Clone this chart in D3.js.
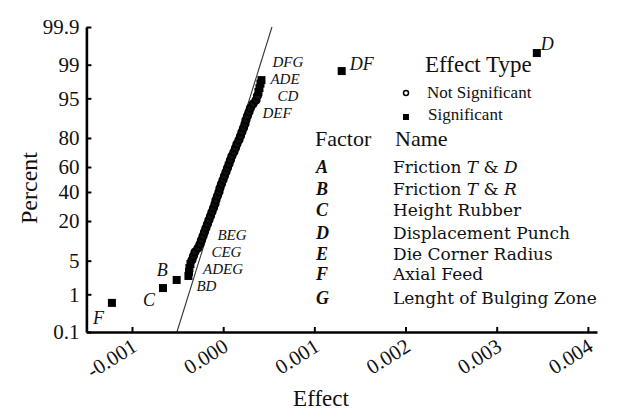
<!DOCTYPE html>
<html>
<head>
<meta charset="utf-8">
<script src="https://cdn.jsdelivr.net/npm/d3@7"></script>
<style>
  body { margin: 0; background: #fff; }
  text { font-family: "Liberation Serif", "Times New Roman", serif; fill: #111; }
</style>
</head>
<body>
<div id="contentpane"></div>
<script>
//////////
// Data //
//////////

// Effects, sorted, and their normal probability (%)
var effects = [-0.00122, -0.00066, -0.00051,
  -0.000381, -0.000375, -0.000370, -0.000359, -0.000342, -0.000326, -0.000309, -0.000276, -0.000254, -0.000238,
  -0.000221, -0.000205, -0.000189, -0.000172, -0.000156, -0.000139, -0.000123, -0.000106, -0.000090, -0.000079,
  -0.000063, -0.000046, -0.000035, -0.000019, -0.000002, 0.000014, 0.000031, 0.000047, 0.000064, 0.000080,
  0.000096, 0.000118, 0.000135, 0.000151, 0.000173, 0.000190, 0.000206, 0.000223, 0.000239, 0.000250,
  0.000266, 0.000283, 0.000299, 0.000327, 0.000360, 0.000376, 0.000387, 0.000398, 0.000409, 0.000420,
  0.00130, 0.00344];
var percents = [0.62, 1.39, 2.09,
  2.53, 3.05, 3.65, 4.34, 5.14, 6.06, 7.09, 8.26, 9.56, 11.0,
  12.6, 14.4, 16.3, 18.4, 20.6, 23.0, 25.5, 28.2, 31.0, 33.9,
  36.9, 40.0, 43.2, 46.4, 49.6, 52.8, 56.0, 59.2, 62.3, 65.4,
  68.3, 71.1, 73.8, 76.4, 78.8, 81.1, 83.2, 85.2, 87.0, 88.6,
  90.1, 91.4, 92.6, 93.7, 94.6, 95.5, 96.2, 96.8, 97.4, 97.8,
  98.6, 99.48];
// Labels of significant effects ("" = not significant)
var labels = ["F", "C", "B",
  "BD", "ADEG", "CEG", "BEG", "", "", "", "", "", "",
  "", "", "", "", "", "", "", "", "", "",
  "", "", "", "", "", "", "", "", "", "",
  "", "", "", "", "", "", "", "", "", "",
  "", "", "", "", "", "", "DEF", "CD", "ADE", "DFG",
  "DF", "D"];

// Fitted normal line
var fitEffect = [-0.000507, 0.000535];
var fitPercent = [0.1, 99.9];

// Axes
var yTicks = [0.1, 1, 5, 20, 40, 60, 80, 95, 99, 99.9];
var xTicks = [-0.001, 0, 0.001, 0.002, 0.003, 0.004];
var xTickLabels = ["-0.001", "0.000", "0.001", "0.002", "0.003", "0.004"];

// Legend table
var factorCodes = ["A", "B", "C", "D", "E", "F", "G"];
var factorNames = ["Friction T & D", "Friction T & R", "Height Rubber", "Displacement Punch",
  "Die Corner Radius", "Axial Feed", "Lenght of Bulging Zone"];

///////////////
// Functions //
///////////////

// Inverse normal CDF (Acklam)
function probit(p){
	var a = [-39.69683028665376, 220.9460984245205, -275.9285104469687, 138.3577518672690, -30.66479806614716, 2.506628277459239];
	var b = [-54.47609879822406, 161.5858368580409, -155.6989798598866, 66.80131188771972, -13.28068155288572];
	var c = [-0.007784894002430293, -0.3223964580411365, -2.400758277161838, -2.549732539343734, 4.374664141464968, 2.938163982698783];
	var d = [0.007784695709041462, 0.3224671290700398, 2.445134137142996, 3.754408661907416];
	var q, r;
	if (p < 0.02425) {
		q = Math.sqrt(-2 * Math.log(p));
		return (((((c[0]*q+c[1])*q+c[2])*q+c[3])*q+c[4])*q+c[5]) / ((((d[0]*q+d[1])*q+d[2])*q+d[3])*q+1);
	}
	if (p > 1 - 0.02425) {
		q = Math.sqrt(-2 * Math.log(1 - p));
		return -(((((c[0]*q+c[1])*q+c[2])*q+c[3])*q+c[4])*q+c[5]) / ((((d[0]*q+d[1])*q+d[2])*q+d[3])*q+1);
	}
	q = p - 0.5; r = q * q;
	return (((((a[0]*r+a[1])*r+a[2])*r+a[3])*r+a[4])*r+a[5])*q / (((((b[0]*r+b[1])*r+b[2])*r+b[3])*r+b[4])*r+1);
}

///////////////////
// Initial setup //
///////////////////

var width = 622;
var height = 412;
var svg = d3.select("#contentpane").append("svg")
	.attr("width", width).attr("height", height);

// Scales
var x = d3.scaleLinear().domain([-0.0015, 0.0041]).range([86.4, 597]);
var z = d3.scaleLinear().domain([probit(0.001), probit(0.999)]).range([332, 27]);
function y(p) { return z(probit(p / 100)); }

var points = effects.map(function(e, i) { return {e: e, p: percents[i], label: labels[i]}; });

// Fit line
svg.append("line")
	.attr("x1", x(fitEffect[0])).attr("y1", y(fitPercent[0]))
	.attr("x2", x(fitEffect[1])).attr("y2", y(fitPercent[1]))
	.attr("stroke", "#333").attr("stroke-width", 1.1);

// Not significant points (overlap into a solid band)
svg.selectAll("circle.pt").data(points.filter(function(d) { return d.label === ""; }))
	.enter().append("circle").attr("class", "pt")
	.attr("cx", function(d) { return x(d.e); })
	.attr("cy", function(d) { return y(d.p); })
	.attr("r", 3.6)
	.attr("fill", "#111").attr("stroke", "#000").attr("stroke-width", 2);

// Significant points
var sq = 8;
svg.selectAll("rect.pt").data(points.filter(function(d) { return d.label !== ""; }))
	.enter().append("rect").attr("class", "pt")
	.attr("x", function(d) { return x(d.e) - sq / 2; })
	.attr("y", function(d) { return y(d.p) - sq / 2; })
	.attr("width", sq).attr("height", sq)
	.attr("fill", "#000");

// Point labels, offsets in px; stacked ones are smaller
var labelOffset = {
	F: [-19, 21], C: [-20, 18], B: [-20, -4],
	BD: [8, 15], ADEG: [14, 2], CEG: [22, -11], BEG: [27, -24],
	DEF: [4, 26], CD: [18, 13], ADE: [10, 0], DFG: [11, -13],
	DF: [8, -1], D: [4, -3]
};
var lonely = ["F", "C", "B", "DF", "D"];
svg.selectAll("text.lab").data(points.filter(function(d) { return d.label !== ""; }))
	.enter().append("text").attr("class", "lab")
	.text(function(d) { return d.label; })
	.attr("x", function(d) { return x(d.e) + labelOffset[d.label][0]; })
	.attr("y", function(d) { return y(d.p) + labelOffset[d.label][1]; })
	.attr("font-size", function(d) { return lonely.indexOf(d.label) >= 0 ? "18px" : "15px"; })
	.attr("font-style", "italic");

// Y axis
var yAxis = svg.append("g").attr("transform", "translate(86.4,0)")
	.call(d3.axisLeft(z)
		.tickValues(yTicks.map(function(p) { return probit(p / 100); }))
		.tickFormat(function(v, i) { return yTicks[i]; })
		.tickSizeInner(-5).tickSizeOuter(0).tickPadding(7));

// X axis
var xAxis = svg.append("g").attr("transform", "translate(0,332)")
	.call(d3.axisBottom(x)
		.tickValues(xTicks)
		.tickFormat(function(v, i) { return xTickLabels[i]; })
		.tickSizeInner(-5).tickSizeOuter(0));

[yAxis, xAxis].forEach(function(ax) {
	ax.select(".domain").attr("stroke", "#000").attr("stroke-width", 2.6);
	ax.selectAll(".tick line").attr("stroke", "#000").attr("stroke-width", 2);
	ax.selectAll(".tick text").attr("font-family", "Liberation Serif, serif").attr("font-size", "21px").attr("fill", "#111");
});
xAxis.selectAll(".tick text")
	.attr("x", 0).attr("y", 0).attr("dy", 0)
	.attr("text-anchor", "end")
	.attr("transform", "translate(6,18) rotate(-32)");

// Axis titles
svg.append("text").text("Percent")
	.attr("transform", "translate(37,188) rotate(-90)")
	.attr("text-anchor", "middle").attr("font-size", "24px");
svg.append("text").text("Effect")
	.attr("x", 321).attr("y", 406)
	.attr("text-anchor", "middle").attr("font-size", "23px");

// Legend: effect type
svg.append("text").text("Effect Type").attr("x", 425).attr("y", 72).attr("font-size", "23px");
svg.append("circle").attr("cx", 406).attr("cy", 93).attr("r", 2.5)
	.attr("fill", "#fff").attr("stroke", "#000").attr("stroke-width", 1.5);
svg.append("text").text("Not Significant").attr("x", 427).attr("y", 98).attr("font-size", "17px");
svg.append("rect").attr("x", 403).attr("y", 114).attr("width", 6).attr("height", 6).attr("fill", "#000");
svg.append("text").text("Significant").attr("x", 428).attr("y", 120).attr("font-size", "17px");

// Legend: factor table
svg.append("text").text("Factor").attr("x", 315).attr("y", 146).attr("font-size", "22px");
svg.append("text").text("Name").attr("x", 395).attr("y", 146).attr("font-size", "22px");
var rowY = [173, 195, 216, 239, 260, 280, 304];
svg.selectAll("text.code").data(factorCodes).enter().append("text").attr("class", "code")
	.text(function(d) { return d; })
	.attr("x", 316).attr("y", function(d, i) { return rowY[i]; })
	.attr("font-size", "18px").attr("font-style", "italic").attr("font-weight", "bold");
var names = svg.selectAll("text.name").data(factorNames).enter().append("text").attr("class", "name")
	.attr("x", 393).attr("y", function(d, i) { return rowY[i]; })
	.style("font-family", "'DejaVu Serif', serif")
	.attr("font-size", "17px");
names.each(function(d) {
	var t = d3.select(this);
	var m = d.match(/^(Friction )([TR]) & ([DR])$/);
	if (m) {
		t.append("tspan").text(m[1]);
		t.append("tspan").text(m[2]).attr("font-style", "italic");
		t.append("tspan").text(" & ");
		t.append("tspan").text(m[3]).attr("font-style", "italic");
	} else {
		t.text(d);
	}
});
</script>
</body>
</html>
